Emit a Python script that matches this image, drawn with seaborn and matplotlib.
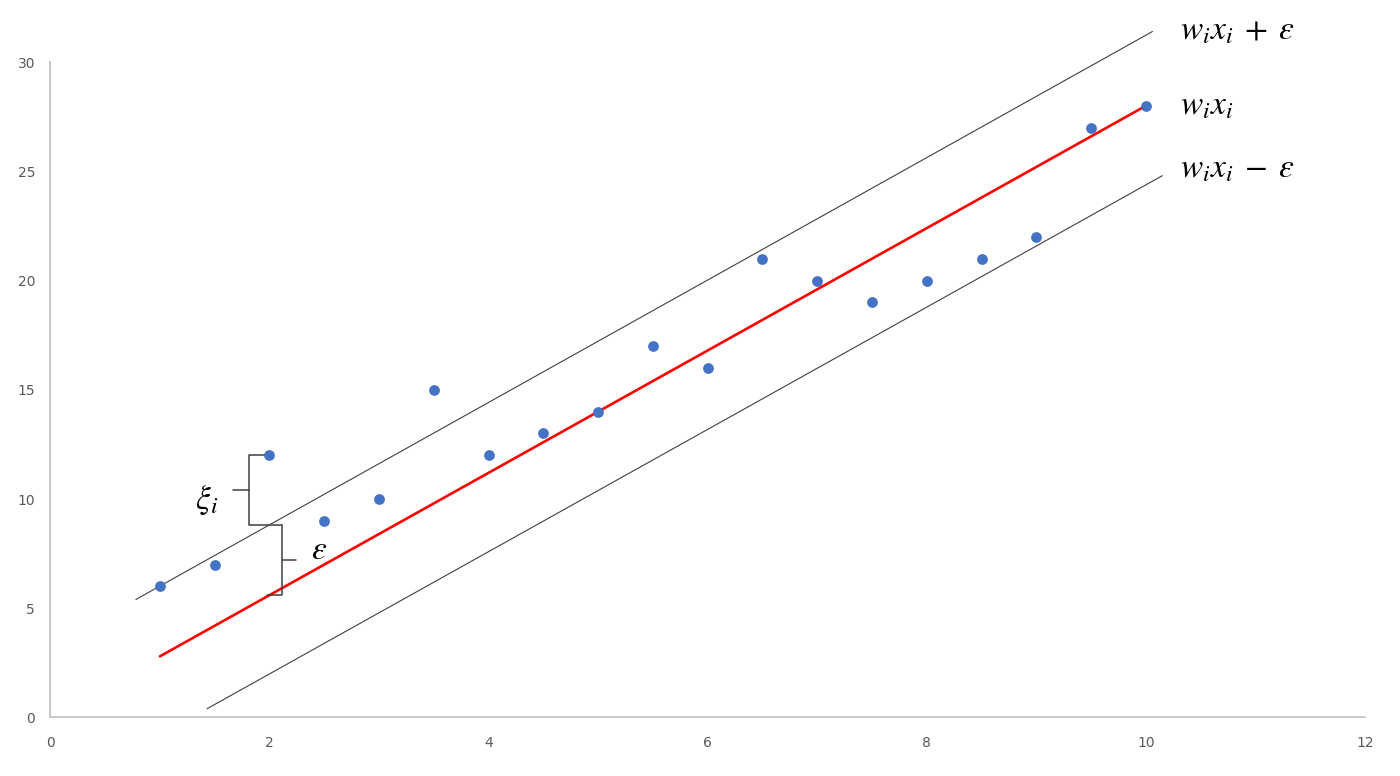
import matplotlib
matplotlib.use("Agg")
import matplotlib.pyplot as plt
import seaborn as sns
import numpy as np

# observed points
x_pts = [1, 1.5, 2, 2.5, 3, 3.5, 4, 4.5, 5, 5.5, 6, 6.5, 7, 7.5, 8, 8.5, 9, 9.5, 10]
y_pts = [6, 7, 12, 9, 10, 15, 12, 13, 14, 17, 16, 21, 20, 19, 20, 21, 22, 27, 28]

# regression line w_i x_i and the epsilon tube (end points)
fit_x = [1, 10]
fit_y = [2.8, 28]
upper_x = [0.78, 10.06]
upper_y = [5.4, 31.4]
lower_x = [1.43, 10.15]
lower_y = [0.4, 24.8]

x_ticks = [0, 2, 4, 6, 8, 10, 12]
y_ticks = [0, 5, 10, 15, 20, 25, 30]

sns.set_style("white")
plt.rcParams["mathtext.fontset"] = "stix"

fig = plt.figure(figsize=(14, 7.76), dpi=100)
ax = fig.add_axes([0.036, 0.0754, 0.939, 0.8446])

sns.lineplot(x=upper_x, y=upper_y, ax=ax, color="#404040", linewidth=0.8, sort=False, clip_on=False)
sns.lineplot(x=lower_x, y=lower_y, ax=ax, color="#404040", linewidth=0.8, sort=False, clip_on=False)
sns.lineplot(x=fit_x, y=fit_y, ax=ax, color="#ff0000", linewidth=1.9, sort=False, clip_on=False)
sns.scatterplot(x=x_pts, y=y_pts, ax=ax, color="#4472c4", s=60,
                edgecolor="#4472c4", linewidth=0, zorder=5, clip_on=False)

ax.set_xlim(0, 12)
ax.set_ylim(0, 30)
ax.set_xticks(x_ticks)
ax.set_yticks(y_ticks)
ax.tick_params(length=0, labelsize=10, labelcolor="#595959")
ax.tick_params(axis="x", pad=13)
ax.tick_params(axis="y", pad=11)
for side in ["top", "right"]:
    ax.spines[side].set_visible(False)
for side in ["left", "bottom"]:
    ax.spines[side].set_color("#bfbfbf")
    ax.spines[side].set_linewidth(1.2)

# brackets for xi_i and epsilon at x = 2
slope_up = (upper_y[1] - upper_y[0]) / (upper_x[1] - upper_x[0])
up_at2 = upper_y[0] + slope_up * (2 - upper_x[0])
fit_at2 = fit_y[0] + (fit_y[1] - fit_y[0]) / (fit_x[1] - fit_x[0]) * (2 - fit_x[0])
pt_at2 = y_pts[x_pts.index(2)]

bk = dict(color="#404040", linewidth=1.1)
xb = 1.815
ax.plot([1.96, xb, xb, 2.113], [pt_at2, pt_at2, up_at2, up_at2], **bk)
ax.plot([1.666, xb], [(pt_at2 + up_at2) / 2] * 2, **bk)
xe = 2.113
ax.plot([xe, xe, 1.973], [up_at2, fit_at2, fit_at2], **bk)
ax.plot([xe, 2.24], [(up_at2 + fit_at2) / 2] * 2, **bk)

ax.text(1.43, 9.95, r"$\xi_i$", fontsize=24, ha="center", va="center", color="black")
ax.text(2.45, 7.7, r"$\varepsilon$", fontsize=24, ha="center", va="center", color="black")

lx = 1180 / 1400
fig.text(lx, 1 - 30 / 776, r"$w_i x_i\;+\;\varepsilon$", fontsize=24, va="center", color="black")
fig.text(lx, 1 - 105 / 776, r"$w_i x_i$", fontsize=24, va="center", color="black")
fig.text(lx, 1 - 168 / 776, r"$w_i x_i\;-\;\varepsilon$", fontsize=24, va="center", color="black")

fig.savefig("out.png", dpi=100)
